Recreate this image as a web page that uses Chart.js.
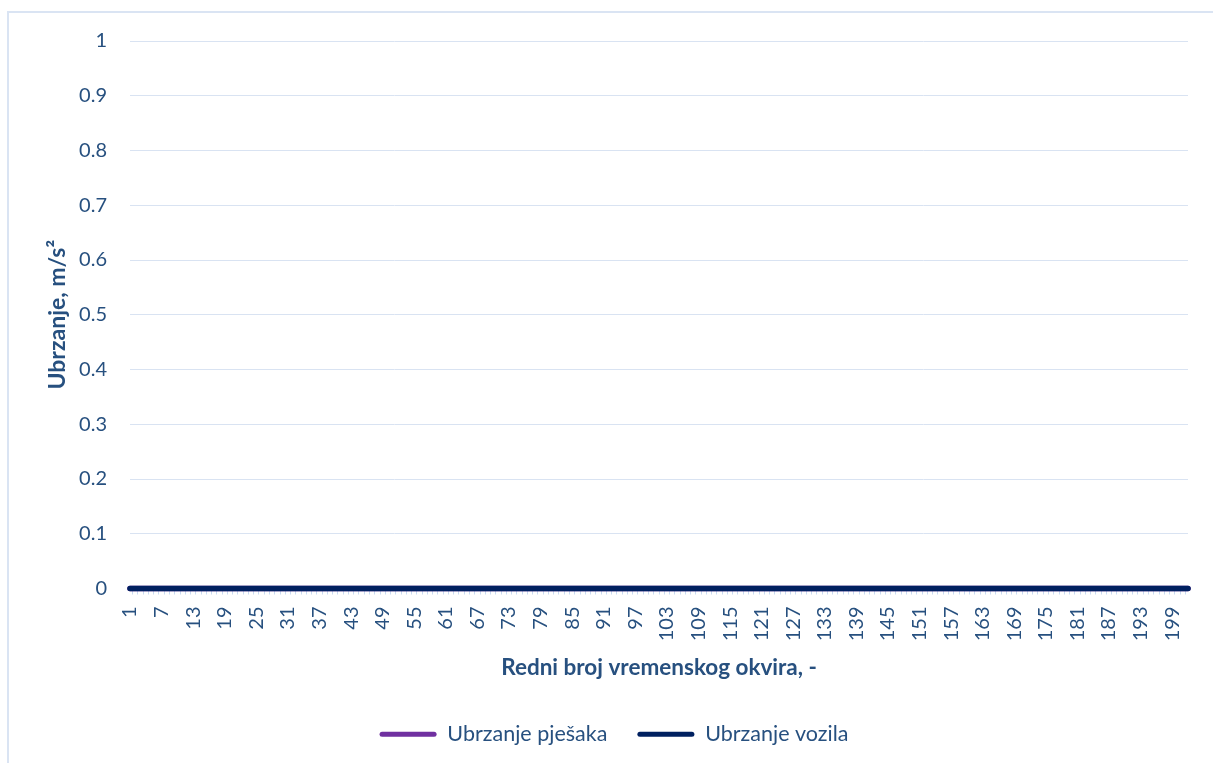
<!DOCTYPE html>
<html>
<head>
<meta charset="utf-8">
<script src="https://cdn.jsdelivr.net/npm/chart.js@4"></script>
<style>
  html, body { margin: 0; padding: 0; background: #fff; }
  #frame {
    position: absolute; left: 7px; top: 11px; width: 1300px; height: 900px;
    border-left: 2px solid #dae4f3; border-top: 2px solid #dae4f3;
  }
  #wrap { position: absolute; left: 0; top: 0; width: 1213px; height: 763px; }
</style>
</head>
<body>
<div id="frame"></div>
<div id="wrap"><canvas id="chart" width="1213" height="763"></canvas></div>
<script>
const TEXT = '#27507f';
const FONT = 'Lato';

// redni broj vremenskog okvira
const frames = [
  1,2,3,4,5,6,7,8,9,10,11,12,13,14,15,16,17,18,19,20,
  21,22,23,24,25,26,27,28,29,30,31,32,33,34,35,36,37,38,39,40,
  41,42,43,44,45,46,47,48,49,50,51,52,53,54,55,56,57,58,59,60,
  61,62,63,64,65,66,67,68,69,70,71,72,73,74,75,76,77,78,79,80,
  81,82,83,84,85,86,87,88,89,90,91,92,93,94,95,96,97,98,99,100,
  101,102,103,104,105,106,107,108,109,110,111,112,113,114,115,116,117,118,119,120,
  121,122,123,124,125,126,127,128,129,130,131,132,133,134,135,136,137,138,139,140,
  141,142,143,144,145,146,147,148,149,150,151,152,153,154,155,156,157,158,159,160,
  161,162,163,164,165,166,167,168,169,170,171,172,173,174,175,176,177,178,179,180,
  181,182,183,184,185,186,187,188,189,190,191,192,193,194,195,196,197,198,199,200,
  201,202
];

// ubrzanje pjesaka, m/s2
const pedestrianAcc = [
  0,0,0,0,0,0,0,0,0,0,0,0,0,0,0,0,0,0,0,0,
  0,0,0,0,0,0,0,0,0,0,0,0,0,0,0,0,0,0,0,0,
  0,0,0,0,0,0,0,0,0,0,0,0,0,0,0,0,0,0,0,0,
  0,0,0,0,0,0,0,0,0,0,0,0,0,0,0,0,0,0,0,0,
  0,0,0,0,0,0,0,0,0,0,0,0,0,0,0,0,0,0,0,0,
  0,0,0,0,0,0,0,0,0,0,0,0,0,0,0,0,0,0,0,0,
  0,0,0,0,0,0,0,0,0,0,0,0,0,0,0,0,0,0,0,0,
  0,0,0,0,0,0,0,0,0,0,0,0,0,0,0,0,0,0,0,0,
  0,0,0,0,0,0,0,0,0,0,0,0,0,0,0,0,0,0,0,0,
  0,0,0,0,0,0,0,0,0,0,0,0,0,0,0,0,0,0,0,0,
  0,0
];

// ubrzanje vozila, m/s2
const vehicleAcc = [
  0,0,0,0,0,0,0,0,0,0,0,0,0,0,0,0,0,0,0,0,
  0,0,0,0,0,0,0,0,0,0,0,0,0,0,0,0,0,0,0,0,
  0,0,0,0,0,0,0,0,0,0,0,0,0,0,0,0,0,0,0,0,
  0,0,0,0,0,0,0,0,0,0,0,0,0,0,0,0,0,0,0,0,
  0,0,0,0,0,0,0,0,0,0,0,0,0,0,0,0,0,0,0,0,
  0,0,0,0,0,0,0,0,0,0,0,0,0,0,0,0,0,0,0,0,
  0,0,0,0,0,0,0,0,0,0,0,0,0,0,0,0,0,0,0,0,
  0,0,0,0,0,0,0,0,0,0,0,0,0,0,0,0,0,0,0,0,
  0,0,0,0,0,0,0,0,0,0,0,0,0,0,0,0,0,0,0,0,
  0,0,0,0,0,0,0,0,0,0,0,0,0,0,0,0,0,0,0,0,
  0,0
];

const seriesNames = ['Ubrzanje pješaka', 'Ubrzanje vozila'];
const yMin = 0, yMax = 1, yStep = 0.1;
const labelEvery = 6;

new Chart(document.getElementById('chart'), {
  type: 'line',
  data: {
    labels: frames,
    datasets: [
      { label: seriesNames[0], data: pedestrianAcc, borderColor: '#7030a0', backgroundColor: '#7030a0',
        borderWidth: 5.5, pointRadius: 0, borderCapStyle: 'round', clip: false, order: 1 },
      { label: seriesNames[1], data: vehicleAcc, borderColor: '#002060', backgroundColor: '#002060',
        borderWidth: 5.5, pointRadius: 0, borderCapStyle: 'round', clip: false, order: 0 },
    ],
  },
  options: {
    responsive: false,
    animation: false,
    layout: { padding: { left: 40, right: 25, top: 41, bottom: 8 } },
    plugins: {
      tooltip: { enabled: false },
      legend: {
        position: 'bottom',
        labels: {
          color: TEXT,
          font: { family: FONT, size: 21.5 },
          boxWidth: 57,
          boxHeight: 5,
          padding: 30,
          sort: (a, b) => a.datasetIndex - b.datasetIndex,
          generateLabels: chart => Chart.defaults.plugins.legend.labels.generateLabels(chart)
            .map(it => ({ ...it, lineWidth: 0, borderRadius: 2.5 })),
        },
      },
    },
    scales: {
      x: {
        type: 'category',
        offset: false,
        grid: { display: true, drawOnChartArea: false, drawTicks: true, tickLength: 6, color: '#c9daf1', offset: true },
        border: { display: false },
        ticks: {
          autoSkip: false,
          minRotation: 90,
          maxRotation: 90,
          padding: 12,
          color: TEXT,
          font: { family: FONT, size: 20 },
          callback: (v, i) => (i % labelEvery === 0 ? frames[i] : ''),
        },
        title: {
          display: true,
          text: 'Redni broj vremenskog okvira, -',
          color: TEXT,
          font: { family: FONT, size: 22.5, weight: 'bold' },
          padding: { top: 28, bottom: 12 },
        },
        afterFit: s => { s.height = 105; s.paddingLeft = 0; s.paddingRight = 0; },
      },
      y: {
        min: yMin,
        max: yMax,
        grid: { color: '#d9e3f2', drawTicks: false },
        border: { display: false },
        ticks: {
          stepSize: yStep,
          padding: 23,
          color: TEXT,
          font: { family: FONT, size: 20 },
          callback: v => Number(v.toFixed(1)).toString(),
        },
        title: {
          display: true,
          text: 'Ubrzanje, m/s²',
          color: TEXT,
          font: { family: FONT, size: 23, weight: 'bold' },
          padding: { top: 4, bottom: 0 },
        },
        afterFit: s => { s.width = 90; },
      },
    },
  },
});
</script>
</body>
</html>
